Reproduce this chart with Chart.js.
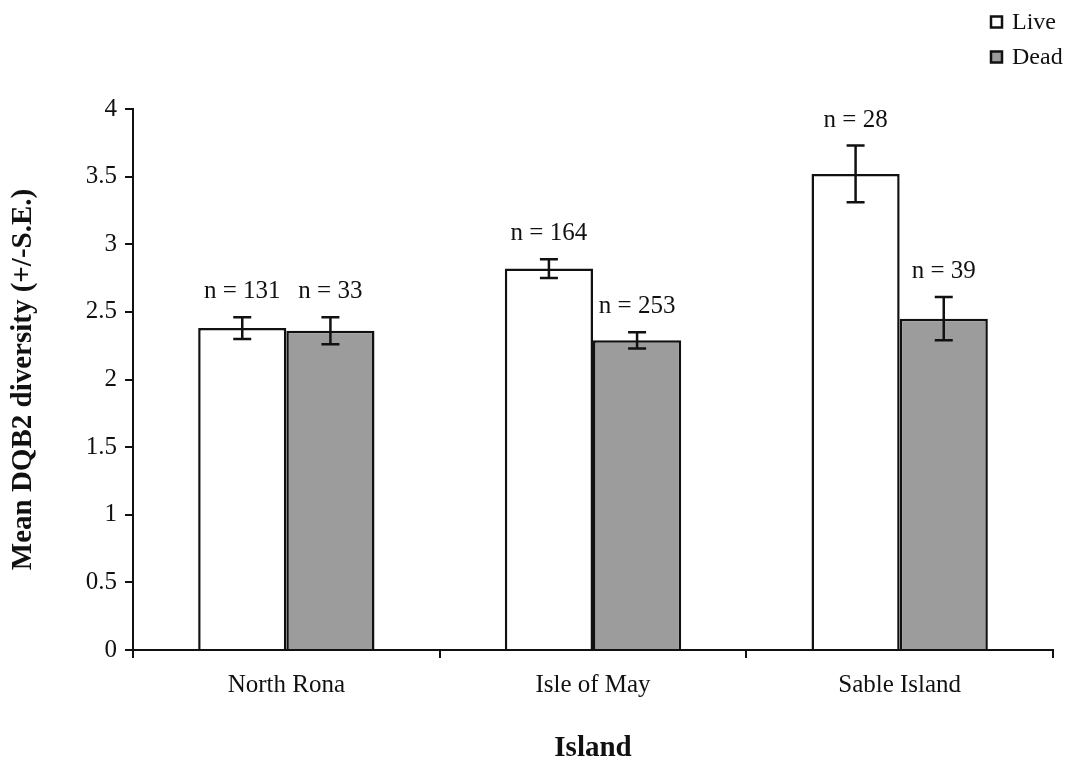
<!DOCTYPE html>
<html>
<head>
<meta charset="utf-8">
<script src="https://cdn.jsdelivr.net/npm/chart.js@4/dist/chart.umd.min.js"></script>
<style>
  html, body { margin: 0; padding: 0; background: #ffffff; }
  #wrap { width: 1071px; height: 766px; }
</style>
</head>
<body>
<div id="wrap"><canvas id="c" width="1071" height="766"></canvas></div>
<script>
// Mean DQB2 diversity by island, live vs dead animals
const islands = ['North Rona', 'Isle of May', 'Sable Island'];
const liveMean = [2.38, 2.82, 3.52];
const liveSE   = [0.08, 0.07, 0.21];
const liveN    = [131, 164, 28];
const deadMean = [2.36, 2.29, 2.45];
const deadSE   = [0.10, 0.06, 0.16];
const deadN    = [33, 253, 39];
const yMin = 0, yMax = 4, yStep = 0.5;

const SERIF = '"Liberation Serif", "Times New Roman", serif';
const INK = '#111111';

// Error bars (mean ± S.E.) drawn from the y scale
const errorBars = {
  id: 'errorBars',
  afterDatasetsDraw(chart) {
    const { ctx, scales: { y } } = chart;
    ctx.save();
    ctx.strokeStyle = INK;
    ctx.lineWidth = 2.5;
    chart.data.datasets.forEach((ds, di) => {
      const meta = chart.getDatasetMeta(di);
      meta.data.forEach((bar, i) => {
        const v = ds.data[i], e = ds.se[i];
        const x = bar.x;
        const yTop = y.getPixelForValue(v + e);
        const yBot = y.getPixelForValue(v - e);
        const cap = 9;
        ctx.beginPath();
        ctx.moveTo(x, yTop); ctx.lineTo(x, yBot);
        ctx.moveTo(x - cap, yTop); ctx.lineTo(x + cap, yTop);
        ctx.moveTo(x - cap, yBot); ctx.lineTo(x + cap, yBot);
        ctx.stroke();
      });
    });
    ctx.restore();
  }
};

// Sample size labels above each error bar
const sampleLabels = {
  id: 'sampleLabels',
  afterDatasetsDraw(chart) {
    const { ctx, scales: { y } } = chart;
    ctx.save();
    ctx.fillStyle = INK;
    ctx.font = '25px ' + SERIF;
    ctx.textAlign = 'center';
    ctx.textBaseline = 'alphabetic';
    chart.data.datasets.forEach((ds, di) => {
      const meta = chart.getDatasetMeta(di);
      meta.data.forEach((bar, i) => {
        const yTop = y.getPixelForValue(ds.data[i] + ds.se[i]);
        ctx.fillText('n = ' + ds.n[i], bar.x, yTop - 19);
      });
    });
    ctx.restore();
  }
};

// Stacked legend in the top-right corner
const cornerLegend = {
  id: 'cornerLegend',
  afterDraw(chart) {
    const { ctx } = chart;
    ctx.save();
    ctx.font = '24px ' + SERIF;
    ctx.textBaseline = 'middle';
    ctx.textAlign = 'left';
    chart.data.datasets.forEach((ds, i) => {
      const cy = 22 + i * 35;
      ctx.fillStyle = ds.backgroundColor;
      ctx.fillRect(991, cy - 5.5, 11, 11);
      ctx.strokeStyle = INK;
      ctx.lineWidth = 2.5;
      ctx.strokeRect(991, cy - 5.5, 11, 11);
      ctx.fillStyle = INK;
      ctx.fillText(ds.label, 1012, cy + 1);
    });
    ctx.restore();
  }
};

const whiteBg = {
  id: 'whiteBg',
  beforeDraw(chart) {
    const { ctx } = chart;
    ctx.save();
    ctx.fillStyle = '#ffffff';
    ctx.fillRect(0, 0, chart.width, chart.height);
    ctx.restore();
  }
};

new Chart(document.getElementById('c'), {
  type: 'bar',
  data: {
    labels: islands,
    datasets: [
      { label: 'Live', data: liveMean, se: liveSE, n: liveN,
        backgroundColor: '#ffffff', borderColor: INK, borderWidth: 2.5, borderSkipped: 'bottom' },
      { label: 'Dead', data: deadMean, se: deadSE, n: deadN,
        backgroundColor: '#9c9c9c', borderColor: INK, borderWidth: 2.5, borderSkipped: 'bottom' }
    ]
  },
  options: {
    responsive: false,
    animation: false,
    devicePixelRatio: 1,
    layout: { padding: { top: 109, right: 18, left: 0, bottom: 0 } },
    datasets: { bar: { categoryPercentage: 0.575, barPercentage: 1.0 } },
    plugins: {
      legend: { display: false },
      tooltip: { enabled: false }
    },
    scales: {
      x: {
        offset: true,
        grid: { display: true, offset: true, drawOnChartArea: false, drawTicks: true,
                tickLength: 8, color: INK, lineWidth: 2 },
        border: { display: true, color: INK, width: 2 },
        ticks: { color: INK, font: { family: SERIF, size: 25 }, padding: 12 },
        title: { display: true, text: 'Island', color: INK,
                 font: { family: SERIF, size: 29, weight: 'bold' },
                 padding: { top: 0, bottom: 0 } },
        afterFit(scale) { scale.height = 116; }
      },
      y: {
        min: yMin, max: yMax,
        grid: { display: true, drawOnChartArea: false, drawTicks: true,
                tickLength: 8, color: INK, lineWidth: 2 },
        border: { display: true, color: INK, width: 2 },
        ticks: { stepSize: yStep, color: INK, font: { family: SERIF, size: 25 }, padding: 8,
                 callback: (value) => String(value) },
        title: { display: true, text: 'Mean DQB2 diversity (+/-S.E.)', color: INK,
                 font: { family: SERIF, size: 29, weight: 'bold' },
                 padding: { top: 6, bottom: 0 } },
        afterFit(scale) { scale.width = 133; }
      }
    }
  },
  plugins: [whiteBg, errorBars, sampleLabels, cornerLegend]
});
</script>
</body>
</html>
